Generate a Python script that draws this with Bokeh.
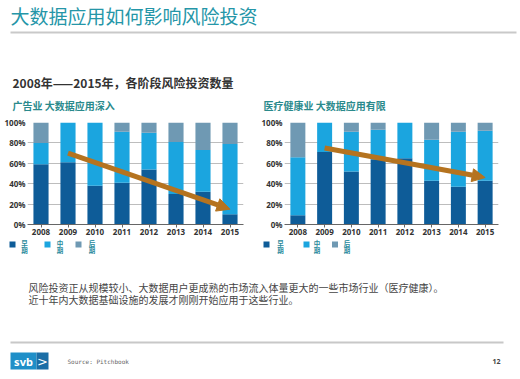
from bokeh.plotting import figure
from bokeh.layouts import column, row
from bokeh.models import (Range1d, FactorRange, FixedTicker, PrintfTickFormatter,
                          Arrow, NormalHead, ColumnDataSource)
from bokeh.embed import file_html
from bokeh.resources import INLINE
from bokeh.core.properties import value

# ---------------- data ----------------
years = ["2008", "2009", "2010", "2011", "2012", "2013", "2014", "2015"]
stage_labels = ["早期", "中期", "后期"]
y_ticks = [0, 20, 40, 60, 80, 100]

ad_early = [59, 61, 38, 41, 54, 30, 32, 10]
ad_mid = [21, 39, 62, 50, 36, 51, 41, 69]
ad_late = [20, 0, 0, 9, 10, 19, 27, 21]
ad_trend_years = ["2009", "2015"]
ad_trend_values = [70, 15]

hc_early = [9, 71, 52, 64, 65, 43, 37, 43]
hc_mid = [57, 29, 39, 29, 35, 40, 54, 49]
hc_late = [34, 0, 9, 7, 0, 17, 9, 8]
hc_trend_years = ["2009", "2015"]
hc_trend_values = [75, 46]

title_text = "大数据应用如何影响风险投资"
subtitle_text = "2008年——2015年，各阶段风险投资数量"
ad_title = "广告业 大数据应用深入"
hc_title = "医疗健康业 大数据应用有限"
note_lines = ["风险投资正从规模较小、大数据用户更成熟的市场流入体量更大的一些市场行业（医疗健康）。",
              "近十年内大数据基础设施的发展才刚刚开始应用于这些行业。"]
source_text = "Source: Pitchbook"
page_no = "12"

# ---------------- style ----------------
CJK = "Noto Sans CJK SC"
STAGE_COLORS = ["#0e5c98", "#1ba5df", "#6f99b3"]
C_ARROW = "#b5731f"
TEAL = "#2596a8"
LEGEND_TEXT = "#2a8a9c"


def blank(width, height):
    p = figure(width=width, height=height, x_range=Range1d(0, width), y_range=Range1d(height, 0),
               output_backend="svg", toolbar_location=None, min_border=0)
    p.axis.visible = False
    p.grid.visible = False
    p.outline_line_color = None
    return p


def chart(early, mid, late, trend_x, trend_y, width, border_left, border_right):
    p = figure(x_range=FactorRange(factors=years), y_range=Range1d(0, 100),
               width=width, height=125, output_backend="svg", toolbar_location=None,
               min_border_top=8, min_border_left=border_left, min_border_right=border_right,
               min_border_bottom=15)
    p.outline_line_color = None
    src = ColumnDataSource(dict(year=years, early=early, mid=mid, late=late))
    p.vbar_stack(["early", "mid", "late"], x="year", width=0.56, source=src,
                 color=STAGE_COLORS, line_color=None)
    tsrc = ColumnDataSource(dict(xs=[trend_x[0]], ys=[trend_y[0]], xe=[trend_x[1]], ye=[trend_y[1]]))
    p.add_layout(Arrow(source=tsrc, x_start="xs", y_start="ys", x_end="xe", y_end="ye",
                       line_color=C_ARROW, line_width=5,
                       end=NormalHead(size=13, fill_color=C_ARROW, line_color=C_ARROW, line_width=1)))
    p.xgrid.visible = False
    p.ygrid.grid_line_color = "#bdbdbd"
    p.ygrid.grid_line_width = 1
    p.yaxis.ticker = FixedTicker(ticks=y_ticks)
    p.yaxis.formatter = PrintfTickFormatter(format="%d%%")
    p.yaxis.axis_line_color = None
    p.yaxis.major_tick_line_color = None
    p.yaxis.minor_tick_line_color = None
    p.yaxis.major_tick_out = 0
    p.yaxis.major_tick_in = 0
    p.yaxis.major_label_standoff = 2
    p.yaxis.major_label_text_font_size = "8px"
    p.yaxis.major_label_text_font_style = "bold"
    p.yaxis.major_label_text_color = "#333333"
    p.yaxis.major_label_text_font = "Noto Sans"
    p.xaxis.axis_line_color = "#666666"
    p.xaxis.major_tick_line_color = "#666666"
    p.xaxis.major_tick_out = 3
    p.xaxis.major_tick_in = 0
    p.xaxis.major_label_standoff = 1
    p.xaxis.major_label_text_font_size = "8px"
    p.xaxis.major_label_text_font_style = "bold"
    p.xaxis.major_label_text_color = "#333333"
    p.xaxis.major_label_text_font = "Noto Sans"
    return p


# ---------------- header ----------------
head = blank(520, 114)
head.text(x=[10], y=[15], text=[title_text], text_font=value(CJK), text_font_size="19px",
          text_baseline="middle", text_color=TEAL)
head.segment(x0=[10], y0=[32], x1=[516], y1=[32], line_color="#c9c9c9", line_width=2)
head.text(x=[12], y=[82], text=[subtitle_text], text_font=value(CJK), text_font_size="12px",
          text_font_style="bold", text_baseline="middle", text_color="#333333")
head.text(x=[12, 263], y=[105, 105], text=[ad_title, hc_title], text_font=value(CJK),
          text_font_size="10px", text_font_style="bold", text_baseline="middle", text_color="#2a8a8c")

# ---------------- charts ----------------
left = chart(ad_early, ad_mid, ad_late, ad_trend_years, ad_trend_values, 258, 27, 15)
right = chart(hc_early, hc_mid, hc_late, hc_trend_years, hc_trend_values, 262, 25, 22)

# ---------------- footer (legends, note, source) ----------------
foot = blank(520, 140)
first_chars = [s[0] for s in stage_labels]
second_chars = [s[1] for s in stage_labels]
for sq_x, lab_x in (([12, 47, 78], [24, 59.5, 91.5]), ([266, 306, 334.5], [280, 316.5, 346.5])):
    foot.scatter(x=sq_x, y=[5, 5, 5], marker="square", size=6, color=STAGE_COLORS, line_color=None)
    foot.text(x=lab_x, y=[3, 3, 3], text=first_chars, text_font=value(CJK), text_font_size="6.5px",
              text_font_style="bold", text_align="center", text_baseline="middle", text_color=LEGEND_TEXT)
    foot.text(x=lab_x, y=[10, 10, 10], text=second_chars, text_font=value(CJK), text_font_size="6.5px",
              text_font_style="bold", text_align="center", text_baseline="middle", text_color=LEGEND_TEXT)
foot.text(x=[28, 28], y=[48, 60], text=note_lines, text_font=value(CJK), text_font_size="10px",
          text_baseline="middle", text_color="#444444")
foot.segment(x0=[10], y0=[103], x1=[503], y1=[103], line_color="#c8c8c8", line_width=2)
foot.quad(left=[10], right=[36], top=[113], bottom=[130], fill_color="#1f8fc8", line_color=None)
foot.quad(left=[36], right=[48], top=[113], bottom=[130], fill_color="#1b6ea6", line_color=None)
foot.text(x=[23], y=[121.5], text=["svb"], text_font=value("Noto Sans"), text_font_size="11px",
          text_font_style="bold", text_align="center", text_baseline="middle", text_color="white")
foot.text(x=[42], y=[121.5], text=[">"], text_font=value("DejaVu Sans"), text_font_size="13px",
          text_align="center", text_baseline="middle", text_color="white")
foot.text(x=[67], y=[122], text=[source_text], text_font=value("DejaVu Sans Mono"), text_font_size="6px",
          text_baseline="middle", text_color="#666666")
foot.text(x=[492], y=[122], text=[page_no], text_font=value("Noto Sans"), text_font_size="7px",
          text_font_style="bold", text_baseline="middle", text_color="#444444")

layout = column(head, row(left, right, spacing=0), foot, spacing=0)
open("out.html", "w").write(file_html(layout, INLINE))
